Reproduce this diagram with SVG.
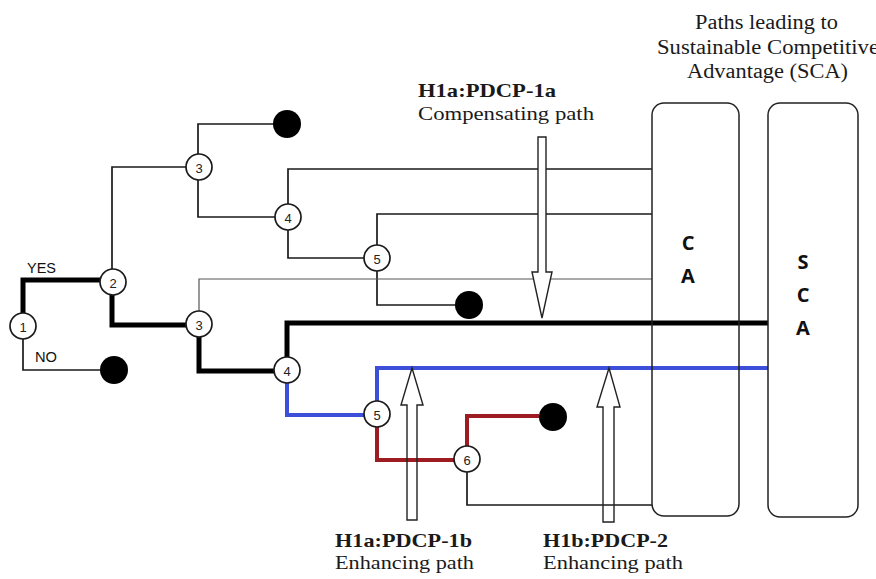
<svg xmlns="http://www.w3.org/2000/svg" width="876" height="579" viewBox="0 0 876 579">
<style>
.bg{fill:#fff}
.thin{fill:none;stroke:#1a1a1a;stroke-width:1.7;stroke-linejoin:miter}
.faint{fill:none;stroke:#555;stroke-width:1.2}
.thick{fill:none;stroke:#000;stroke-width:5}
.blue{fill:none;stroke:#3b4fd9;stroke-width:4}
.red{fill:none;stroke:#9c1c22;stroke-width:4}
.node circle{fill:#fff;stroke:#1a1a1a;stroke-width:1.7}
.node text{font-family:"Liberation Sans",Arial,sans-serif;font-size:13px;fill:#222;text-anchor:middle;dominant-baseline:central}
.dot{fill:#000}
.box{fill:none;stroke:#222;stroke-width:1.5}
.boxlbl{font-family:"Open Sans","Liberation Sans",sans-serif;font-weight:bold;font-size:20px;fill:#111;text-anchor:middle}
.ser{font-family:"Liberation Serif","Times New Roman",serif;font-size:19px;fill:#1a1a1a}
.serb{font-family:"Liberation Serif","Times New Roman",serif;font-size:19px;font-weight:bold;fill:#1a1a1a}
.title{font-family:"Liberation Serif","Times New Roman",serif;font-size:20px;fill:#1a1a1a}
.yn{font-family:"Liberation Sans",Arial,sans-serif;font-size:14px;fill:#111}
.arrowW{fill:#fff;stroke:#222;stroke-width:1.4;stroke-linejoin:miter}
.arrowO{fill:none;stroke:#222;stroke-width:1.4;stroke-linejoin:miter}
</style>
<rect class="bg" x="0" y="0" width="876" height="579"/>

<g id="connectors">
  <path class="thick" d="M23,313 V280 H101"/>
  <path class="thin" d="M23,339 V370 H100"/>
  <path class="thin" d="M112,269 V167 H186"/>
  <path class="thick" d="M112,295 V325 H186"/>
  <path class="thin" d="M198,154 V124 H273"/>
  <path class="thin" d="M198,180 V217 H275"/>
  <path class="thin" d="M288,204 V169 H652"/>
  <path class="thin" d="M288,230 V258 H364"/>
  <path class="thin" d="M377,245 V214 H652"/>
  <path class="thin" d="M377,271 V305 H455"/>
  <path class="faint" d="M199,311 V279 H652"/>
  <path class="thick" d="M199,337 V371 H274"/>
  <path class="thick" d="M287,357 V323 H768"/>
  <path class="blue" d="M287,383 V415 H364"/>
  <path class="blue" d="M377,401 V368 H768"/>
  <path class="red" d="M377,427 V460 H454"/>
  <path class="red" d="M467,446 V416 H539"/>
  <path class="thin" d="M467,472 V505 H652"/>
</g>

<g id="arrows">
  <path class="arrowW" d="M538,137 H546 V272 H552 L542,318 L532,272 H538 Z"/>
  <path class="arrowO" d="M407,520 V405 H401 L412,368 L423,405 H417 V520 Z"/>
  <path class="arrowO" d="M603,522 V407 H597 L609,368 L620,407 H614 V522 Z"/>
</g>

<g id="CA">
  <rect class="box" x="652" y="103" width="87" height="413" rx="12"/>
  <text class="boxlbl" x="688" y="250">C</text>
  <text class="boxlbl" x="688" y="283">A</text>
</g>
<g id="SCA">
  <rect class="box" x="768" y="103" width="90" height="414" rx="12"/>
  <text class="boxlbl" x="803" y="269">S</text>
  <text class="boxlbl" x="803" y="302">C</text>
  <text class="boxlbl" x="803" y="335">A</text>
</g>

<g id="n1" class="node"><circle cx="23" cy="326" r="13"/><text x="23" y="327">1</text></g>
<g id="n2" class="node"><circle cx="113" cy="282" r="13"/><text x="113" y="283">2</text></g>
<g id="n3a" class="node"><circle cx="199" cy="167" r="13"/><text x="199" y="168">3</text></g>
<g id="n4a" class="node"><circle cx="288" cy="217" r="13"/><text x="288" y="218">4</text></g>
<g id="n5a" class="node"><circle cx="377" cy="258" r="13"/><text x="377" y="259">5</text></g>
<g id="n3b" class="node"><circle cx="199" cy="324" r="13"/><text x="199" y="325">3</text></g>
<g id="n4b" class="node"><circle cx="287" cy="370" r="13"/><text x="287" y="371">4</text></g>
<g id="n5b" class="node"><circle cx="377" cy="414" r="13"/><text x="377" y="415">5</text></g>
<g id="n6" class="node"><circle cx="467" cy="459" r="13"/><text x="467" y="460">6</text></g>

<g id="end1"><circle class="dot" cx="114" cy="370" r="14"/></g>
<g id="end2"><circle class="dot" cx="287" cy="124" r="14"/></g>
<g id="end3"><circle class="dot" cx="469" cy="305" r="14"/></g>
<g id="end4"><circle class="dot" cx="553" cy="417" r="14"/></g>

<g id="labels">
  <text class="yn" x="27" y="273" textLength="29" lengthAdjust="spacingAndGlyphs">YES</text>
  <text class="yn" x="35" y="362" textLength="22" lengthAdjust="spacingAndGlyphs">NO</text>
  <text class="title" x="695" y="29" textLength="143" lengthAdjust="spacingAndGlyphs">Paths leading to</text>
  <text class="title" x="657" y="54" textLength="222" lengthAdjust="spacingAndGlyphs">Sustainable Competitive</text>
  <text class="title" x="687" y="78" textLength="161" lengthAdjust="spacingAndGlyphs">Advantage (SCA)</text>
  <text class="serb" x="418" y="97" textLength="138" lengthAdjust="spacingAndGlyphs">H1a:PDCP-1a</text>
  <text class="ser" x="418" y="120" textLength="176" lengthAdjust="spacingAndGlyphs">Compensating path</text>
  <text class="serb" x="335" y="547" textLength="137" lengthAdjust="spacingAndGlyphs">H1a:PDCP-1b</text>
  <text class="ser" x="335" y="569" textLength="139" lengthAdjust="spacingAndGlyphs">Enhancing path</text>
  <text class="serb" x="543" y="547" textLength="125" lengthAdjust="spacingAndGlyphs">H1b:PDCP-2</text>
  <text class="ser" x="543" y="569" textLength="140" lengthAdjust="spacingAndGlyphs">Enhancing path</text>
</g>
</svg>
